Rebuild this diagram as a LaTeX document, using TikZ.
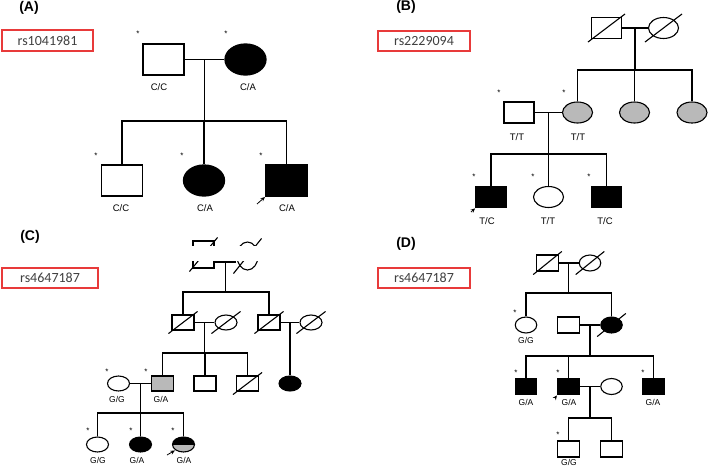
\documentclass[tikz,border=0pt]{standalone}
\usepackage{fontspec}
\setmainfont{Liberation Sans}
\newfontfamily\rsfont{Carlito}
\usetikzlibrary{shapes.geometric,calc,arrows.meta}
\definecolor{snpred}{RGB}{232,58,58}
\tikzset{
  psize/.style={minimum width=22, minimum height=15},
  male/.style={draw, rectangle, inner sep=0, psize},
  female/.style={draw, ellipse, inner sep=0, psize},
  aff/.style={fill=black},
  carr/.style={fill=gray!55},
  geno/.style={font=\fontsize{9.5}{9.5}\selectfont},
  tag/.style={font=\fontsize{8}{8}\selectfont, inner sep=0},
  panel/.style={font=\fontsize{14}{14}\selectfont\bfseries},
  snp/.style={draw=snpred, line width=1.1, minimum width=91, minimum height=21,
    inner sep=0, font=\fontsize{14}{14}\rsfont, text=black!75},
  proband/.style={-{Stealth[length=4.5,width=4]}, line width=0.8, shorten >=0.5},
}
\newcommand{\dead}[1]{\draw ($(#1.west |- #1.south)+(-3,3)$) -- ($(#1.east |- #1.north)+(3,-3)$);}

\begin{document}
\begin{tikzpicture}[x=1pt, y=-1pt]
  \useasboundingbox (0,0) rectangle (709,466);

  %% Panel A
  \node[panel] (pa) at (29,8) {(A)};
  \node[snp] (sa) at (47.5,40.5) {rs1041981};
  \begin{scope}[line width=1.3, psize/.style={minimum width=41, minimum height=31}]
    %% Draw the nodes
    \node[male] (af) at (163.5,59.5) {};
    \node[female, aff] (am) at (245.5,59.5) {};
    \node[male] (ac1) at (122,180.5) {};
    \node[female, aff] (ac2) at (204,180.5) {};
    \node[male, aff] (ac3) at (286.5,180.5) {};
    \coordinate (amid) at ($(af.east)!0.5!(am.west)$);
    \coordinate (asib) at ($(amid)+(0,61.5)$);
    %% Draw the edges
    \draw (af) -- (am);
    \draw (amid) -- (asib);
    \foreach \c in {ac1,ac2,ac3} \draw (\c.north) |- (asib);
  \end{scope}
  %% Draw the genotypes
  \node[geno] (laf) at (159,87.5) {C/C};
  \node[geno] (lam) at (248,87.5) {C/A};
  \node[geno] (lac1) at (121,208.5) {C/C};
  \node[geno] (lac2) at (205,208.5) {C/A};
  \node[geno] (lac3) at (287,208.5) {C/A};
  \node[tag] (taf) at (138,33.5) {*};
  \node[tag] (tam) at (226,33.5) {*};
  \node[tag] (tac1) at (96,155.5) {*};
  \node[tag] (tac2) at (182,155.5) {*};
  \node[tag] (tac3) at (261,155.5) {*};
  \coordinate (ap) at (257,204);
  \draw[proband] (ap) -- (ac3.south west);

  %% Panel B
  \node[panel] (pb) at (406,7) {(B)};
  \node[snp, minimum width=92, minimum height=20] (sb) at (424,41) {rs2229094};
  \begin{scope}[line width=1.1, psize/.style={minimum width=30, minimum height=21}]
    %% Draw the nodes
    \node[male] (bgf) at (606.5,28) {};
    \node[female] (bgm) at (663.5,28) {};
    \node[male] (bh) at (519,112.5) {};
    \node[female, carr] (bw) at (577.5,112.5) {};
    \node[female, carr] (bs2) at (634.5,112.5) {};
    \node[female, carr] (bs3) at (692,112.5) {};
    \node[male, aff] (bc1) at (491,197) {};
    \node[female] (bc2) at (548.5,197) {};
    \node[male, aff] (bc3) at (606.5,197) {};
    \dead{bgf}
    \dead{bgm}
    \coordinate (bmid0) at ($(bgf.east)!0.5!(bgm.west)$);
    \coordinate (bsib0) at ($(bmid0)+(0,42)$);
    \coordinate (bmid1) at ($(bh.east)!0.5!(bw.west)$);
    \coordinate (bsib1) at ($(bmid1)+(0,41.5)$);
    %% Draw the edges
    \draw (bgf) -- (bgm);
    \draw (bmid0) -- (bsib0);
    \foreach \c in {bw,bs2,bs3} \draw (\c.north) |- (bsib0);
    \draw (bh) -- (bw);
    \draw (bmid1) -- (bsib1);
    \foreach \c in {bc1,bc2,bc3} \draw (\c.north) |- (bsib1);
  \end{scope}
  %% Draw the genotypes
  \node[geno] (lbh) at (517,137) {T/T};
  \node[geno] (lbw) at (578,137) {T/T};
  \node[geno] (lbc1) at (487,221) {T/C};
  \node[geno] (lbc2) at (548,221) {T/T};
  \node[geno] (lbc3) at (605,221) {T/C};
  \node[tag] (tbh) at (499,92.5) {*};
  \node[tag] (tbw) at (564,92.5) {*};
  \node[tag] (tbc1) at (474,176.5) {*};
  \node[tag] (tbc2) at (533,176.5) {*};
  \node[tag] (tbc3) at (589,176.5) {*};
  \coordinate (bp) at (471,212);
  \draw[proband] (bp) -- (bc1.south west);

  %% Panel C
  \node[panel] (pc) at (30,237) {(C)};
  \node[snp, minimum width=96, minimum height=20] (sc) at (50,278) {rs4647187};
  \begin{scope}[line width=1.1, geno/.style={font=\fontsize{8.5}{8.5}\selectfont}]
    %% Draw the nodes
    \node[male, minimum width=21, minimum height=27] (c0f) at (203.5,254.5) {};
    \node[female, minimum width=21, minimum height=28] (c0m) at (247.5,256) {};
    \dead{c0f}
    \dead{c0m}
    \fill[white] (186,245.5) rectangle (264,260.5);
    \node[male] (c1h) at (183,322.5) {};
    \node[female] (c1w) at (226,322.5) {};
    \node[male] (c2h) at (269,322.5) {};
    \node[female] (c2w) at (311,322.5) {};
    \dead{c1h}
    \dead{c1w}
    \dead{c2h}
    \dead{c2w}
    \node[female] (c3w) at (118.5,383.5) {};
    \node[male, carr] (c3a) at (162.5,383.5) {};
    \node[male] (c3b) at (205,383.5) {};
    \node[male] (c3c) at (247.5,383.5) {};
    \node[female, aff] (c3d) at (290,383.5) {};
    \dead{c3c}
    \node[female] (c4a) at (97.5,444.5) {};
    \node[female, aff] (c4b) at (140.5,444.5) {};
    \node[female, carr, path picture={\fill[black] (path picture bounding box.north west)
      rectangle (path picture bounding box.east);}] (c4c) at (183.5,444.5) {};
    \coordinate (cmid0) at (225.5,262);
    \coordinate (csib0) at (225.5,292);
    \coordinate (cmid1) at ($(c1h.east)!0.5!(c1w.west)$);
    \coordinate (csib1) at ($(cmid1)+(0,30.5)$);
    \coordinate (cmid2) at ($(c2h.east)!0.5!(c2w.west)$);
    \coordinate (cmid3) at ($(c3w.east)!0.5!(c3a.west)$);
    \coordinate (csib3) at ($(cmid3)+(0,29.5)$);
    %% Draw the edges
    \draw (c0f.east |- cmid0) -- (c0m.west |- cmid0);
    \draw (cmid0) -- (csib0);
    \foreach \c in {c1h,c2h} \draw (\c.north) |- (csib0);
    \draw (c1h) -- (c1w);
    \draw (cmid1) -- (csib1);
    \foreach \c in {c3a,c3b,c3c} \draw (\c.north) |- (csib1);
    \draw (c2h) -- (c2w);
    \draw (cmid2) -- (cmid2 |- c3d.north);
    \draw (c3w) -- (c3a);
    \draw (cmid3) -- (csib3);
    \foreach \c in {c4a,c4b,c4c} \draw (\c.north) |- (csib3);
    %% Draw the genotypes
    \node[geno] (lc3w) at (117,399.5) {G/G};
    \node[geno] (lc3a) at (161,399.5) {G/A};
    \node[geno] (lc4a) at (98,460.5) {G/G};
    \node[geno] (lc4b) at (137,460.5) {G/A};
    \node[geno] (lc4c) at (184,460.5) {G/A};
  \end{scope}
  \node[tag] (tc3w) at (107,372) {*};
  \node[tag] (tc3a) at (146,372) {*};
  \node[tag] (tc4a) at (88,431) {*};
  \node[tag] (tc4b) at (131,431) {*};
  \node[tag] (tc4c) at (173,431) {*};
  \coordinate (cp) at (167,455);
  \draw[proband] (cp) -- (c4c.south west);

  %% Panel D
  \node[panel] (pd) at (406,244) {(D)};
  \node[snp, minimum width=92, minimum height=20] (sd) at (424,278) {rs4647187};
  \begin{scope}[line width=1.1, psize/.style={minimum width=21.5, minimum height=16},
      geno/.style={font=\fontsize{8.5}{8.5}\selectfont}]
    %% Draw the nodes
    \node[male] (dgf) at (547.5,263) {};
    \node[female] (dgm) at (590,263) {};
    \dead{dgf}
    \dead{dgm}
    \node[female] (d2a) at (526,325) {};
    \node[male] (d2b) at (568.5,325) {};
    \node[female, aff] (d2c) at (611.5,325) {};
    \dead{d2c}
    \node[male, aff] (d3a) at (526,386.5) {};
    \node[male, aff] (d3b) at (568.5,386.5) {};
    \node[female] (d3c) at (611.5,386.5) {};
    \node[male, aff] (d3d) at (653.5,386.5) {};
    \node[male] (d4a) at (568.5,449) {};
    \node[male] (d4b) at (611.5,449) {};
    \coordinate (dmid0) at ($(dgf.east)!0.5!(dgm.west)$);
    \coordinate (dsib0) at ($(dmid0)+(0,30)$);
    \coordinate (dmid1) at ($(d2b.east)!0.5!(d2c.west)$);
    \coordinate (dsib1) at ($(dmid1)+(0,31)$);
    \coordinate (dmid2) at ($(d3b.east)!0.5!(d3c.west)$);
    \coordinate (dsib2) at ($(dmid2)+(0,31.5)$);
    %% Draw the edges
    \draw (dgf) -- (dgm);
    \draw (dmid0) -- (dsib0);
    \foreach \c in {d2a,d2c} \draw (\c.north) |- (dsib0);
    \draw (d2b) -- (d2c);
    \draw (dmid1) -- (dsib1);
    \foreach \c in {d3a,d3b,d3d} \draw (\c.north) |- (dsib1);
    \draw (d3b) -- (d3c);
    \draw (dmid2) -- (dsib2);
    \foreach \c in {d4a,d4b} \draw (\c.north) |- (dsib2);
    %% Draw the genotypes
    \node[geno] (ld2a) at (526,340.5) {G/G};
    \node[geno] (ld3a) at (526,402.5) {G/A};
    \node[geno] (ld3b) at (569,402.5) {G/A};
    \node[geno] (ld3d) at (653,402.5) {G/A};
    \node[geno] (ld4a) at (569,462) {G/G};
  \end{scope}
  \node[tag] (td2a) at (515,313) {*};
  \node[tag] (td3a) at (516,373) {*};
  \node[tag] (td3b) at (558,373) {*};
  \node[tag] (td3d) at (643,373) {*};
  \node[tag] (td4a) at (558,435) {*};
  \coordinate (dp) at (555,398);
  \draw[proband] (dp) -- (d3b.south west);
\end{tikzpicture}
\end{document}
